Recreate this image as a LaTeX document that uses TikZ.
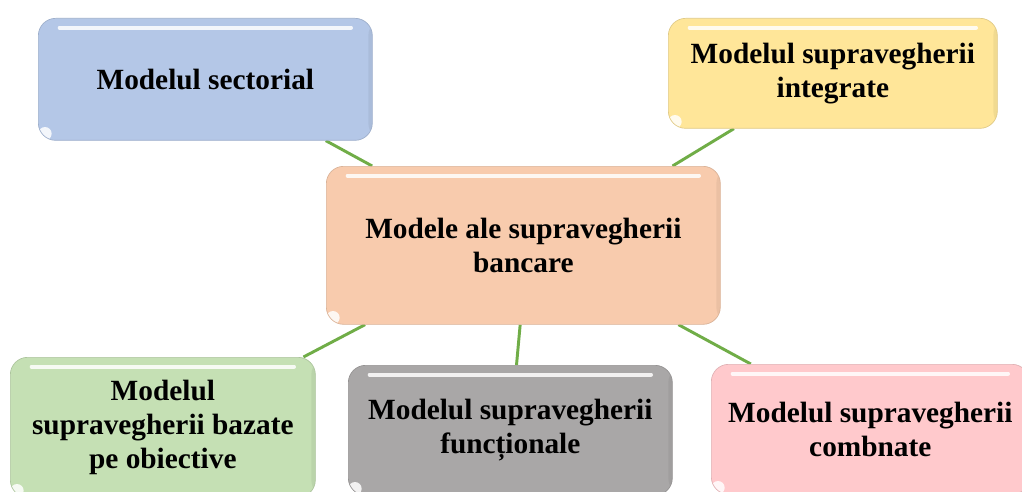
\documentclass[tikz,border=0pt]{standalone}
\usepackage{fontspec}
\setmainfont{Liberation Serif}
\usetikzlibrary{calc,backgrounds}

\definecolor{cblue}{HTML}{B4C7E7}
\definecolor{cyellow}{HTML}{FFE699}
\definecolor{cpeach}{HTML}{F8CBAD}
\definecolor{cgreen}{HTML}{C5E0B4}
\definecolor{cgray}{HTML}{A9A7A7}
\definecolor{cpink}{HTML}{FFC9CC}
\definecolor{link}{HTML}{70AD47}

\tikzset{
  box/.style={
    rectangle, rounded corners=13pt, inner sep=0pt, anchor=north west,
    align=center, font=\bfseries\fontsize{22pt}{25.5pt}\selectfont,
    fill=#1, draw=#1!88!black, line width=0.5pt,
    path picture={
      \draw[white, line width=3pt, opacity=0.85, line cap=round]
        ([xshift=16pt,yshift=-7pt]path picture bounding box.north west) --
        ([xshift=-16pt,yshift=-7pt]path picture bounding box.north east);
      \fill[white, opacity=0.85]
        ([xshift=5pt,yshift=5pt]path picture bounding box.south west) circle (5pt);
      \fill[#1!85!black, opacity=0.35]
        ([xshift=-3pt]path picture bounding box.north east) rectangle
        (path picture bounding box.south east);
    }
  },
  link/.style={draw=link, line width=2.2pt}
}

\begin{document}
\begin{tikzpicture}[x=0.75pt, y=-0.75pt]
  \clip (0,0) rectangle (1022,492);

  \node[box=cblue, minimum width=334*0.75pt, minimum height=122*0.75pt] (sect) at (38,18)
    {Modelul sectorial};
  \node[box=cyellow, minimum width=329*0.75pt, minimum height=110*0.75pt] (integ) at (668,18)
    {Modelul supravegherii\\integrate};
  \node[box=cpeach, minimum width=394*0.75pt, minimum height=158*0.75pt] (center) at (326,166)
    {Modele ale supravegherii\\bancare};
  \node[box=cgreen, minimum width=305*0.75pt, minimum height=140*0.75pt] (obiect) at (10,357)
    {Modelul\\supravegherii bazate\\pe obiective};
  \node[box=cgray, minimum width=324*0.75pt, minimum height=130*0.75pt] (functional) at (348,365)
    {Modelul supravegherii\\funcționale};
  \node[box=cpink, minimum width=318*0.75pt, minimum height=130*0.75pt] (combnat) at (711,364)
    {Modelul supravegherii\\combnate};

  \begin{scope}[on background layer]
    \fill[white] (0,0) rectangle (1022,492);
    \draw[link] ($(sect.south west)!0.86!(sect.south east)$) --
                ($(center.north west)!0.117!(center.north east)$);
    \draw[link] ($(integ.south west)!0.20!(integ.south east)$) --
                ($(center.north west)!0.878!(center.north east)$);
    \draw[link] ($(center.south west)!0.099!(center.south east)$) --
                ($(obiect.north west)!0.96!(obiect.north east)$);
    \draw[link] ($(center.south west)!0.492!(center.south east)$) --
                ($(functional.north west)!0.519!(functional.north east)$);
    \draw[link] ($(center.south west)!0.893!(center.south east)$) --
                ($(combnat.north west)!0.125!(combnat.north east)$);
  \end{scope}
\end{tikzpicture}
\end{document}
